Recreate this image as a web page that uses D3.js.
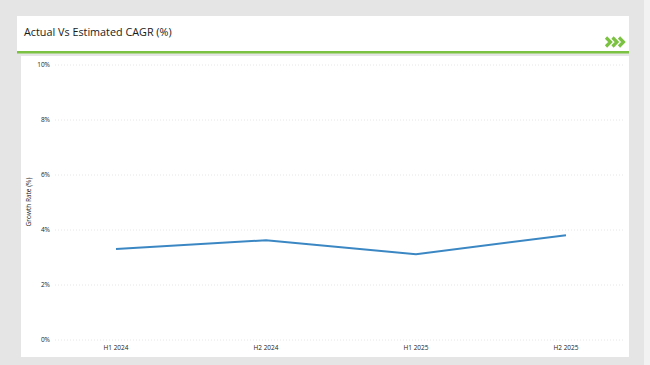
<!DOCTYPE html>
<html>
<head>
<meta charset="utf-8">
<script src="https://cdn.jsdelivr.net/npm/d3@7"></script>
<style>
  body { margin: 0; background: #e5e5e5; }
  svg { display: block; font-family: "Open Sans", "Liberation Sans", sans-serif; }
</style>
</head>
<body>
<div id="graf"></div>
<script>
// data
const periods = ['H1 2024', 'H2 2024', 'H1 2025', 'H2 2025']
const growth = [3.31, 3.63, 3.12, 3.81]
const yTicks = [0, 2, 4, 6, 8, 10]

const W = 650, H = 365

const svg = d3.select('#graf').append('svg')
  .attr('width', W).attr('height', H)

svg.append('rect').attr('width', W).attr('height', H).attr('fill', '#e5e5e5')
svg.append('rect').attr('x', 644).attr('width', 6).attr('height', H).attr('fill', '#f2f2f2')

// header card
svg.append('rect').attr('x', 17).attr('y', 16).attr('width', 612).attr('height', 36).attr('fill', '#fff')
svg.append('rect').attr('x', 17).attr('y', 51).attr('width', 612).attr('height', 2.5).attr('fill', '#7cc242')
svg.append('text')
  .attr('x', 24).attr('y', 36)
  .attr('font-size', 10.8)
  .attr('fill', '#1a1a1a')
  .text('Actual Vs Estimated CAGR (%)')

// chevrons
const chev = svg.append('g').attr('fill', 'none').attr('stroke', '#7cc242')
  .attr('stroke-width', 3.2).attr('stroke-linejoin', 'miter')
;[0, 6.5, 13].forEach((dx) => {
  chev.append('path').attr('d', `M${606 + dx},37.5 L${610.5 + dx},42 L${606 + dx},46.5`)
})

// chart panel
svg.append('rect').attr('x', 21).attr('y', 56).attr('width', 608).attr('height', 301).attr('fill', '#fff')

const x = d3.scalePoint().domain(periods).range([116, 566])
const y = d3.scaleLinear().domain([0, 10]).range([340, 65])

const grid = svg.append('g')
yTicks.forEach((t) => {
  grid.append('line')
    .attr('x1', 55).attr('x2', 625)
    .attr('y1', y(t)).attr('y2', y(t))
    .attr('stroke', '#e0e0e0').attr('stroke-width', 0.8)
    .attr('stroke-dasharray', '1,2')
  grid.append('text')
    .attr('x', 50).attr('y', y(t) + 2.3)
    .attr('text-anchor', 'end')
    .attr('font-size', 6.5)
    .attr('fill', '#222')
    .text(t + '%')
})

periods.forEach((p) => {
  svg.append('text')
    .attr('x', x(p)).attr('y', 350)
    .attr('text-anchor', 'middle')
    .attr('font-size', 6.5)
    .attr('fill', '#222')
    .text(p)
})

svg.append('text')
  .attr('transform', `translate(31, 202) rotate(-90)`)
  .attr('text-anchor', 'middle')
  .attr('font-size', 6.5)
  .attr('fill', '#222')
  .text('Growth Rate (%)')

const line = d3.line().x((d, i) => x(periods[i])).y((d) => y(d))
svg.append('path')
  .datum(growth)
  .attr('d', line)
  .attr('fill', 'none')
  .attr('stroke', '#3b87c4')
  .attr('stroke-width', 2)
</script>
</body>
</html>
